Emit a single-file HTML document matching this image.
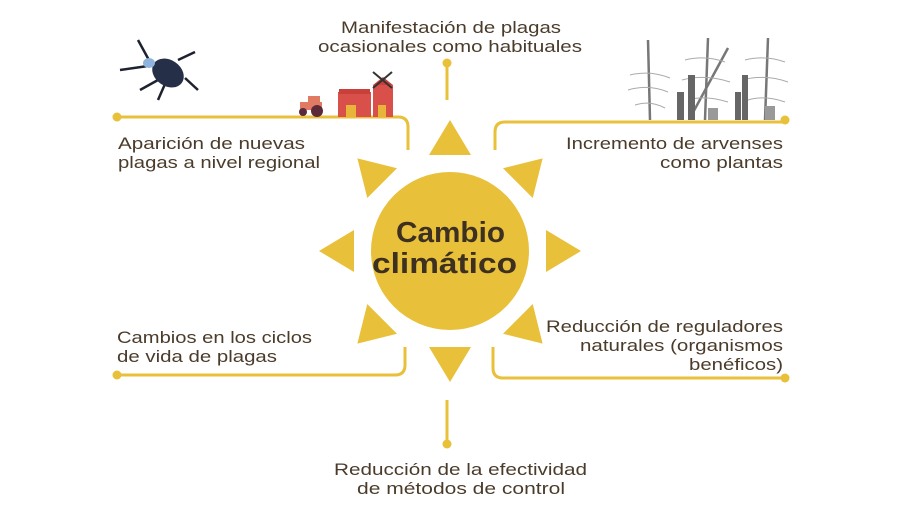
<!DOCTYPE html>
<html><head><meta charset="utf-8"><style>
body{margin:0;background:#fff}
svg{display:block}
text{font-family:"Liberation Sans",sans-serif;fill:#4a3b2a}
</style></head><body>
<svg width="900" height="523" viewBox="0 0 900 523" xmlns="http://www.w3.org/2000/svg">
<g fill="none" stroke="#e8c03a" stroke-width="3">
<path d="M447 63 V100"/>
<path d="M117 117 H398 Q408 117 408 127 V150"/>
<path d="M495 150 V132 Q495 122 505 122 H785"/>
<path d="M117 375 H395 Q405 375 405 365 V347"/>
<path d="M493 347 V368 Q493 378 503 378 H785"/>
<path d="M447 400 V444"/>
</g>
<g fill="#e8c03a">
<circle cx="447" cy="63" r="4.5"/><circle cx="117" cy="117" r="4.5"/><circle cx="785" cy="120" r="4.5"/>
<circle cx="117" cy="375" r="4.5"/><circle cx="785" cy="378" r="4.5"/><circle cx="447" cy="444" r="4.5"/>
<circle cx="450" cy="251" r="79"/>
<g transform="translate(450 251)">
<polygon points="0,-131 -21,-96 21,-96" transform="rotate(0)"/>
<polygon points="0,-131 -21,-96 21,-96" transform="rotate(45)"/>
<polygon points="0,-131 -21,-96 21,-96" transform="rotate(90)"/>
<polygon points="0,-131 -21,-96 21,-96" transform="rotate(135)"/>
<polygon points="0,-131 -21,-96 21,-96" transform="rotate(180)"/>
<polygon points="0,-131 -21,-96 21,-96" transform="rotate(225)"/>
<polygon points="0,-131 -21,-96 21,-96" transform="rotate(270)"/>
<polygon points="0,-131 -21,-96 21,-96" transform="rotate(315)"/>
</g>
</g>
<g font-size="29" font-weight="bold" style="fill:#3d3020" lengthAdjust="spacingAndGlyphs">
<text x="396" y="242" textLength="109" lengthAdjust="spacingAndGlyphs" style="fill:#3d3020">Cambio</text>
<text x="372" y="273" textLength="145" lengthAdjust="spacingAndGlyphs" style="fill:#3d3020">climático</text>
</g>
<g font-size="17">
<text x="341" y="33" textLength="220" lengthAdjust="spacingAndGlyphs">Manifestación de plagas</text>
<text x="318" y="52" textLength="264" lengthAdjust="spacingAndGlyphs">ocasionales como habituales</text>
<text x="118" y="149" textLength="187" lengthAdjust="spacingAndGlyphs">Aparición de nuevas</text>
<text x="118" y="168" textLength="202" lengthAdjust="spacingAndGlyphs">plagas a nivel regional</text>
<text x="566" y="149" textLength="217" lengthAdjust="spacingAndGlyphs">Incremento de arvenses</text>
<text x="660" y="168" textLength="123" lengthAdjust="spacingAndGlyphs">como plantas</text>
<text x="117" y="343" textLength="195" lengthAdjust="spacingAndGlyphs">Cambios en los ciclos</text>
<text x="117" y="362" textLength="160" lengthAdjust="spacingAndGlyphs">de vida de plagas</text>
<text x="546" y="332" textLength="237" lengthAdjust="spacingAndGlyphs">Reducción de reguladores</text>
<text x="580" y="351" textLength="203" lengthAdjust="spacingAndGlyphs">naturales (organismos</text>
<text x="689" y="370" textLength="94" lengthAdjust="spacingAndGlyphs">benéficos)</text>
<text x="334" y="475" textLength="253" lengthAdjust="spacingAndGlyphs">Reducción de la efectividad</text>
<text x="357" y="494" textLength="208" lengthAdjust="spacingAndGlyphs">de métodos de control</text>
</g>
<!-- beetle -->
<g stroke="#1e2230" stroke-width="2.5" fill="none">
<path d="M150 62 L138 40 M148 66 L120 70 M158 80 L140 90 M165 84 L158 100 M178 60 L195 52 M185 78 L198 90"/>
</g>
<ellipse cx="168" cy="73" rx="17" ry="13" fill="#253048" transform="rotate(35 168 73)"/>
<ellipse cx="149" cy="63" rx="6" ry="5" fill="#8eb4dd"/>
<!-- tractor -->
<rect x="300" y="102" width="22" height="8" fill="#e07a63"/>
<rect x="308" y="96" width="12" height="8" fill="#e07a63"/>
<circle cx="303" cy="112" r="4" fill="#5a2a3a"/><circle cx="317" cy="111" r="6" fill="#5a2a3a"/>
<!-- barns -->
<rect x="338" y="92" width="33" height="25" fill="#d9504a"/>
<rect x="339" y="89" width="31" height="5" fill="#c9403a"/>
<rect x="373" y="85" width="20" height="32" fill="#d9504a"/>
<polygon points="373,85 383,77 393,85" fill="#c9403a"/>
<rect x="346" y="105" width="10" height="12" fill="#e8b43a"/>
<rect x="378" y="105" width="8" height="12" fill="#e8b43a"/>
<path d="M373 72 L392 88 M392 72 L373 88" stroke="#333" stroke-width="2"/>
<!-- trees -->
<g stroke="#777" stroke-width="2.5" fill="none">
<path d="M650 120 L648 40"/><path d="M705 120 L708 38"/><path d="M765 120 L768 38"/>
<path d="M690 118 L728 48"/>
</g>
<g stroke="#aaa" stroke-width="1" fill="none">
<path d="M630 75 Q650 70 670 78 M628 90 Q648 84 668 92 M635 105 Q650 100 665 108 M685 60 Q705 55 725 62 M682 80 Q705 74 730 82 M688 100 Q705 95 728 102 M745 60 Q765 55 785 62 M742 80 Q765 74 788 82 M748 100 Q765 95 785 102"/>
</g>
<g fill="#666">
<rect x="677" y="92" width="7" height="28"/><rect x="688" y="75" width="7" height="45"/>
<rect x="735" y="92" width="6" height="28"/><rect x="742" y="75" width="6" height="45"/>
</g>
<g fill="#999"><rect x="708" y="108" width="10" height="12"/><rect x="765" y="106" width="10" height="14"/></g>
</svg>
</body></html>
